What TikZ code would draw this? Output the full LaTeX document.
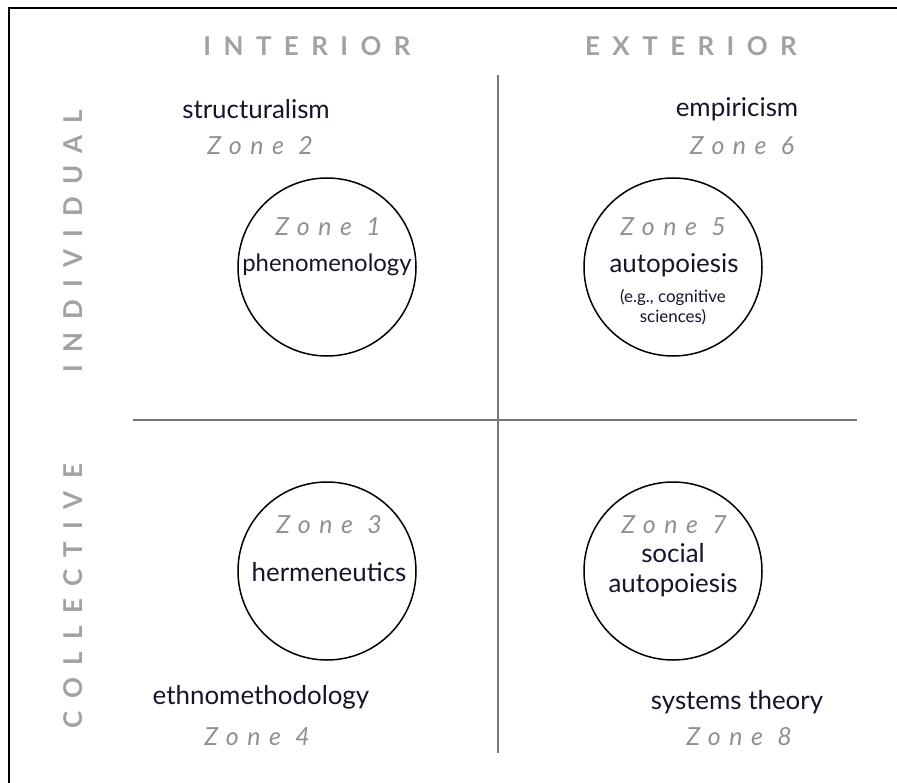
\documentclass[tikz,border=0pt]{standalone}
\usepackage{fontspec}
\setmainfont{Lato}
\newfontfamily\capsfont[LetterSpace=48]{Lato}
\newfontfamily\zonefont[LetterSpace=34]{Lato Italic}
\definecolor{inkc}{HTML}{15152A}
\definecolor{labelc}{HTML}{A2A2A2}
\definecolor{zonec}{HTML}{909090}
\definecolor{linec}{HTML}{777777}
\begin{document}
\begin{tikzpicture}[x=1bp,y=-1bp,
  axis/.style={font=\capsfont\bfseries\fontsize{26}{28}\selectfont, text=labelc, inner sep=0pt},
  zone/.style={font=\zonefont\fontsize{25}{28}\selectfont, text=zonec, inner sep=0pt},
  term/.style={font=\fontsize{26}{30}\selectfont, text=inkc, inner sep=0pt, align=center},
  small/.style={font=\fontsize{17}{20}\selectfont, text=inkc, inner sep=0pt, align=center},
  zonecircle/.style={circle, draw=black, line width=1.5bp, minimum size=178bp, inner sep=0pt},
  quad/.style={draw=linec, line width=2.2bp}]
\useasboundingbox (0,0) rectangle (897,783);
% frame (only top and left edges visible)
\coordinate (fbl) at (9,783);
\coordinate (ftl) at (9,8);
\coordinate (ftr) at (897,8);
\draw[line width=2bp] (fbl) -- (ftl) -- (ftr);
% quadrant lines
\coordinate (hl) at (133,420);
\coordinate (hr) at (857,420);
\coordinate (vt) at (498,75);
\coordinate (vb) at (498,753);
\draw[quad] (hl) -- (hr);
\draw[quad] (vt) -- (vb);
% axis labels
\node[axis] (interior) at (307,46) {INTERIOR};
\node[axis] (exterior) at (691,46) {EXTERIOR};
\node[axis, rotate=90] (individual) at (73,241) {INDIVIDUAL};
\node[axis, rotate=90] (collective) at (73,596) {COLLECTIVE};
% circles
\node[zonecircle] (c1) at (327,267) {};
\node[zonecircle] (c5) at (673,267) {};
\node[zonecircle] (c3) at (327,571) {};
\node[zonecircle] (c7) at (673,571) {};
% top-left
\node[term] (structuralism) at (256,109) {structuralism};
\node[zone] (zone2) at (260,146) {Zone 2};
\node[zone] (zone1) at (328,227) {Zone 1};
\node[term, font=\fontsize{24}{28}\selectfont] (phenomenology) at (327,265) {phenomenology};
% top-right
\node[term] (empiricism) at (737,109) {empiricism};
\node[zone] (zone6) at (742,146) {Zone 6};
\node[zone] (zone5) at (673,227) {Zone 5};
\node[term] (autopoiesis) at (674,265) {autopoiesis};
\node[small] (cognitive) at (673,307) {(e.g., cognitive\\sciences)};
% bottom-left
\node[zone] (zone3) at (329,525) {Zone 3};
\node[term] (hermeneutics) at (329,572) {hermeneutics};
\node[term] (ethno) at (261,697) {ethnomethodology};
\node[zone] (zone4) at (257,737) {Zone 4};
% bottom-right
\node[zone] (zone7) at (674,525) {Zone 7};
\node[term] (social) at (673,570) {social\\autopoiesis};
\node[term] (systems) at (737,702) {systems theory};
\node[zone] (zone8) at (739,737) {Zone 8};
\end{tikzpicture}
\end{document}
